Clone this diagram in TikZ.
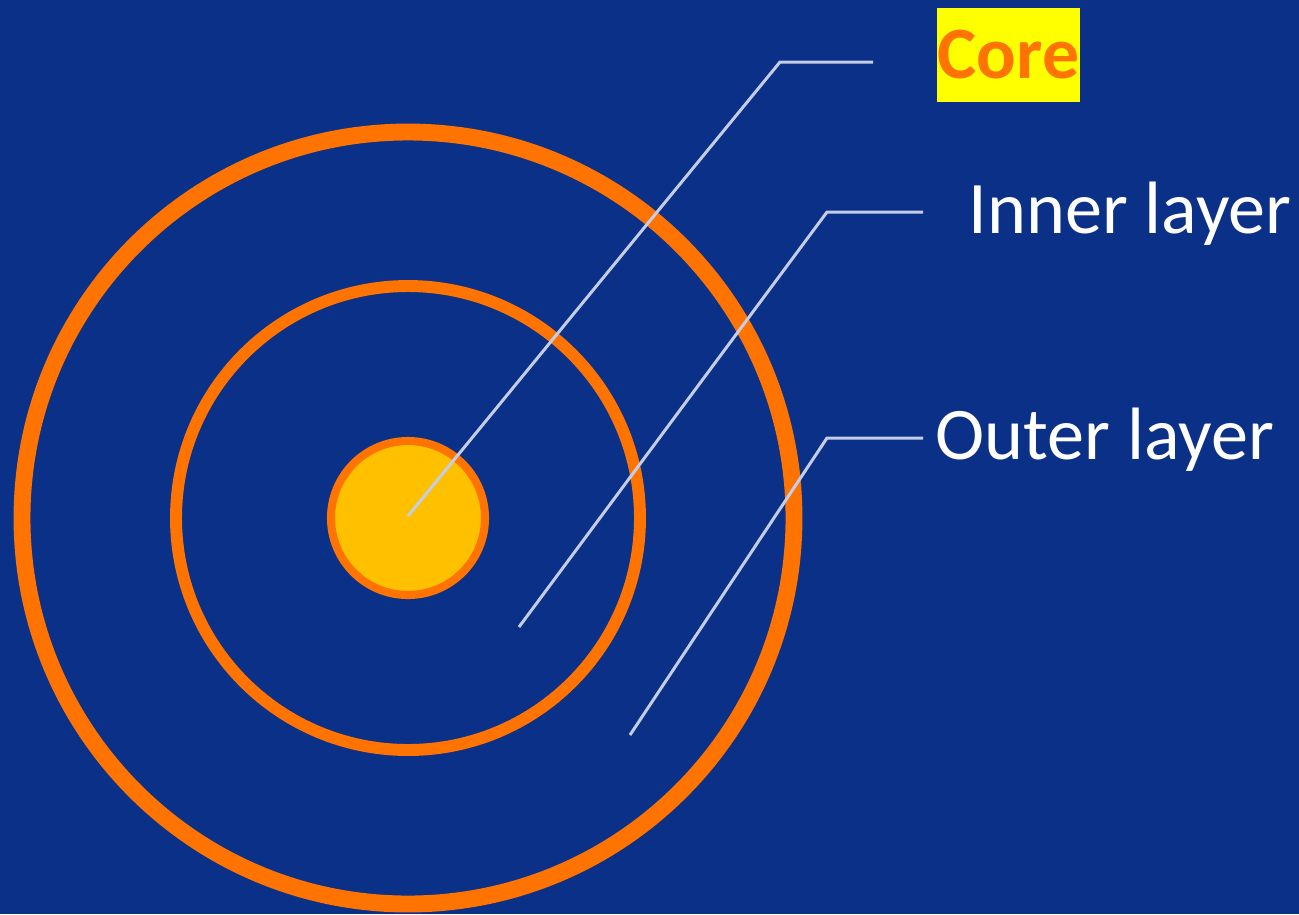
\documentclass[tikz,border=0pt]{standalone}
\usepackage{fontspec}
\setmainfont{Carlito}
\usetikzlibrary{positioning}

\definecolor{bgColour}{HTML}{0B3087}
\definecolor{ringColour}{HTML}{FF7300}
\definecolor{coreColour}{HTML}{FFC000}
\definecolor{leaderColour}{HTML}{C5CDE6}
\definecolor{tagColour}{HTML}{FFFF00}

\tikzset{
    ring/.style={draw=ringColour},
    leader/.style={draw=leaderColour, line width=0.85pt},
    label/.style={text=white, font=\fontsize{21.1}{25}\selectfont, inner sep=0pt, anchor=base west}
}

\begin{document}
\begin{tikzpicture}[x=0.01cm, y=-0.01cm]
    % Background
    \fill[bgColour] (0,0) rectangle (1299,914);
    \useasboundingbox (0,0) rectangle (1299,914);

    % Define the centre
    \coordinate (center) at (408,518);

    % Draw the rings
    \draw[ring, line width=4.8pt] (center) circle[radius=386];
    \draw[ring, line width=3.4pt] (center) circle[radius=232];
    \filldraw[ring, fill=coreColour, line width=2.3pt] (center) circle[radius=77];

    % Labels
    \node[fill=tagColour, text=ringColour, font=\bfseries\fontsize{21}{25}\selectfont,
          minimum width=1.43cm, minimum height=0.93cm, inner sep=0pt]
          (core) at (1008.5,55) {Core};
    \node[label] (inner) at (968,233) {Inner layer};
    \node[label] (outer) at (935,459) {Outer layer};

    % Leader points
    \coordinate (coreTip) at (408,516);
    \coordinate (coreBend) at (780,62);
    \coordinate (coreEnd) at (873,62);
    \coordinate (innerTip) at (519,627);
    \coordinate (innerBend) at (827,212);
    \coordinate (innerEnd) at (923,212);
    \coordinate (outerTip) at (630,735);
    \coordinate (outerBend) at (827,438);
    \coordinate (outerEnd) at (923,438);

    % Draw the leaders
    \draw[leader] (coreTip) -- (coreBend) -- (coreEnd);
    \draw[leader] (innerTip) -- (innerBend) -- (innerEnd);
    \draw[leader] (outerTip) -- (outerBend) -- (outerEnd);
\end{tikzpicture}
\end{document}
